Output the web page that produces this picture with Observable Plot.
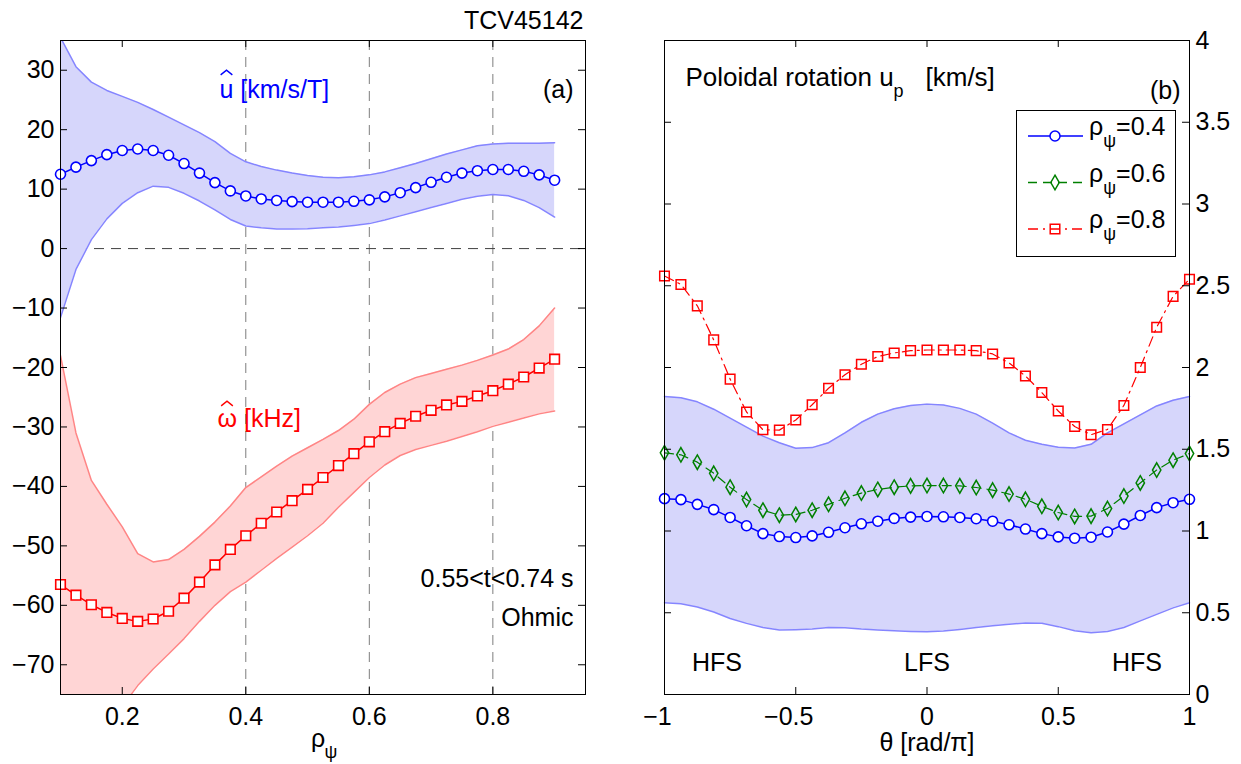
<!DOCTYPE html>
<html><head><meta charset="utf-8">
<script src="https://cdn.jsdelivr.net/npm/d3@7"></script>
<script src="https://cdn.jsdelivr.net/npm/@observablehq/plot@0.6"></script>
<style>
body{margin:0;background:#fff;}
#wrap{position:relative;width:1241px;height:764px;font-family:"Liberation Sans",Arial,sans-serif;}
#wrap > svg{position:absolute;top:0;}
</style></head><body><div id="wrap"></div>
<script>
// ---------- data, panel (a) ----------
const rho = [0.1,0.125,0.15,0.175,0.2,0.225,0.25,0.275,0.3,0.325,0.35,0.375,0.4,0.425,0.45,0.475,0.5,0.525,0.55,0.575,0.6,0.625,0.65,0.675,0.7,0.725,0.75,0.775,0.8,0.825,0.85,0.875,0.9];
const uHat   = [12.5,13.7,14.8,15.8,16.5,16.75,16.5,15.7,14.3,12.7,11.1,9.7,8.85,8.35,8.1,7.9,7.8,7.8,7.8,7.95,8.2,8.7,9.4,10.25,11.15,12.0,12.7,13.1,13.3,13.3,13.0,12.4,11.5];
const uHatHi = [35.5,30.6,28,26.6,25.6,24.6,23.4,22.1,20.8,19.5,18.0,16.0,14.6,13.8,13.2,12.7,12.3,12.0,11.9,12.1,12.4,12.9,13.6,14.3,15.1,15.9,16.6,17.3,17.6,17.7,17.7,17.7,17.8];
const uHatLo = [-11.6,-3.5,1.5,5.0,7.6,9.4,10.5,10.3,9.3,8.0,6.5,4.9,3.8,3.5,3.3,3.3,3.35,3.5,3.65,3.9,4.2,4.8,5.5,6.2,6.9,7.6,8.3,8.8,9.1,8.9,8.1,6.9,5.3];
const omegaHat = [-56.5,-58.3,-59.9,-61.2,-62.2,-62.7,-62.3,-61.0,-58.8,-56.1,-53.2,-50.6,-48.3,-46.2,-44.3,-42.4,-40.5,-38.5,-36.5,-34.5,-32.5,-30.8,-29.4,-28.2,-27.2,-26.3,-25.7,-24.8,-23.9,-22.8,-21.6,-20.1,-18.6];
const omegaHi  = [-18.0,-31,-39,-43,-46.8,-51.3,-52.7,-52.3,-50.6,-48.4,-46.0,-43.3,-40.2,-38.4,-36.6,-34.9,-33.5,-32.1,-30.6,-28.7,-26.2,-24.2,-22.8,-21.7,-21.0,-20.3,-19.6,-18.8,-17.9,-16.9,-15.3,-13.0,-10.0];
const omegaLo  = [-92,-88,-84,-80.5,-77,-73.5,-70.7,-68.2,-65.6,-62.7,-60.0,-57.7,-56.1,-54.1,-52.1,-50.2,-48.3,-46.2,-43.5,-41.0,-38.5,-36.4,-34.8,-33.8,-33.1,-32.4,-31.6,-30.8,-29.9,-29.2,-28.5,-27.8,-27.3];
const xTicksA = [0.2,0.4,0.6,0.8];
const yTicksA = [-70,-60,-50,-40,-30,-20,-10,0,10,20,30];
const gridA = [0.4,0.6,0.8];

// ---------- data, panel (b) ----------
const theta = [-1,-0.9375,-0.875,-0.8125,-0.75,-0.6875,-0.625,-0.5625,-0.5,-0.4375,-0.375,-0.3125,-0.25,-0.1875,-0.125,-0.0625,0,0.0625,0.125,0.1875,0.25,0.3125,0.375,0.4375,0.5,0.5625,0.625,0.6875,0.75,0.8125,0.875,0.9375,1];
const up04 = [1.198,1.192,1.163,1.131,1.083,1.032,0.984,0.966,0.960,0.970,0.992,1.020,1.044,1.06,1.077,1.085,1.089,1.087,1.083,1.075,1.06,1.038,1.012,0.984,0.964,0.956,0.962,0.994,1.042,1.095,1.143,1.173,1.194];
const up06 = [1.478,1.466,1.421,1.353,1.268,1.192,1.127,1.097,1.101,1.127,1.163,1.2,1.232,1.254,1.268,1.276,1.278,1.278,1.276,1.266,1.25,1.226,1.194,1.151,1.113,1.089,1.091,1.137,1.214,1.294,1.373,1.433,1.474];
const up08 = [2.56,2.508,2.377,2.169,1.929,1.728,1.619,1.617,1.679,1.772,1.873,1.956,2.020,2.067,2.089,2.103,2.107,2.107,2.107,2.103,2.083,2.028,1.948,1.847,1.734,1.639,1.589,1.621,1.768,2.0,2.246,2.435,2.54];
const bandHi = [1.823,1.815,1.79,1.745,1.69,1.635,1.58,1.54,1.506,1.51,1.54,1.60,1.665,1.715,1.748,1.768,1.776,1.770,1.750,1.715,1.66,1.60,1.555,1.53,1.512,1.508,1.53,1.60,1.655,1.71,1.765,1.80,1.823];
const bandLo = [0.561,0.555,0.535,0.505,0.465,0.435,0.41,0.394,0.396,0.40,0.41,0.408,0.40,0.395,0.39,0.386,0.384,0.388,0.398,0.41,0.42,0.43,0.438,0.436,0.415,0.39,0.378,0.385,0.41,0.45,0.49,0.53,0.561];
const xTicksB = [-1,-0.5,0,0.5,1];
const yTicksB = [0,0.5,1,1.5,2,2.5,3,3.5,4];
const sideLabels = ["HFS","LFS","HFS"];
const sideTheta = [-0.8,0,0.8];
const legendLabels = ["0.4","0.6","0.8"];

// ---------- build ----------
const A = rho.map((r,i)=>({rho:r,u:uHat[i],uhi:uHatHi[i],ulo:uHatLo[i],w:omegaHat[i],whi:omegaHi[i],wlo:omegaLo[i]}));
const B = theta.map((t,i)=>({t,a:up04[i],b:up06[i],c:up08[i],hi:bandHi[i],lo:bandLo[i]}));
const FONT = "Liberation Sans, Arial, Helvetica, sans-serif";
const FS = 25;
const fmt = d => d < 0 ? "\u2212" + Math.abs(d) : String(d);
const FW = 525, FH = 654, TK = 7;
const BLUE="#0000ff", RED="#ff0000", GREEN="#008000";
const BFILL="#d6d6fb", BEDGE="#8585ff", RFILL="#ffd5d5", REDGE="#ff8585";
const style = {fontFamily: FONT, fontSize: FS+"px", background: "transparent", overflow: "visible", color:"black"};
// circumflex accent drawn as a symbol (a "hat" above u and omega)
const hatSymbol = {draw(ctx, size){ const w = Math.sqrt(size); ctx.moveTo(-w/2, w/5); ctx.lineTo(0, -w/5); ctx.lineTo(w/2, w/5); }};

function ticks(xt, yt) {
  return [
    Plot.tickX(xt, {x: d=>d, insetTop: FH-TK, stroke:"black"}),
    Plot.tickX(xt, {x: d=>d, insetBottom: FH-TK, stroke:"black"}),
    Plot.tickY(yt, {y: d=>d, insetRight: FW-TK, stroke:"black"}),
    Plot.tickY(yt, {y: d=>d, insetLeft: FW-TK, stroke:"black"})
  ];
}

const plotA = Plot.plot({
  width: 620, height: 764, marginLeft: 60, marginRight: 35, marginTop: 40, marginBottom: 70,
  style,
  x: {domain: [0.1, 0.95], axis: null},
  y: {domain: [-75, 35], axis: null},
  marks: [
    Plot.ruleX(gridA, {x: d=>d, stroke:"#7d7d7d", strokeDasharray:"10,7"}),
    Plot.ruleY([0], {y: d=>d, stroke:"#404040", strokeDasharray:"10,7"}),
    Plot.areaY(A, {x:"rho", y1:"ulo", y2:"uhi", fill:BFILL, clip:true}),
    Plot.line(A, {x:"rho", y:"uhi", stroke:BEDGE, strokeWidth:1.5, clip:true}),
    Plot.line(A, {x:"rho", y:"ulo", stroke:BEDGE, strokeWidth:1.5, clip:true}),
    Plot.areaY(A, {x:"rho", y1:"wlo", y2:"whi", fill:RFILL, clip:true}),
    Plot.line(A, {x:"rho", y:"whi", stroke:REDGE, strokeWidth:1.5, clip:true}),
    Plot.line(A, {x:"rho", y:"wlo", stroke:REDGE, strokeWidth:1.5, clip:true}),
    Plot.line(A, {x:"rho", y:"u", stroke:BLUE, strokeWidth:1.5}),
    Plot.dot(A, {x:"rho", y:"u", r:5, stroke:BLUE, fill:"white", strokeWidth:1.6}),
    Plot.line(A, {x:"rho", y:"w", stroke:RED, strokeWidth:1.5}),
    Plot.dot(A, {x:"rho", y:"w", symbol:"square", r:5.4, stroke:RED, fill:"white", strokeWidth:1.6}),
    ...ticks(xTicksA, yTicksA),
    Plot.axisX(xTicksA, {anchor:"bottom", tickSize:0, tickPadding:13, tickFormat: fmt, label:null, fontSize:FS}),
    Plot.axisY(yTicksA, {anchor:"left", tickSize:0, tickPadding:6, tickFormat: fmt, label:null, fontSize:FS}),
    Plot.frame({stroke:"black"}),
    Plot.text(["TCV45142"], {frameAnchor:"top-right", textAnchor:"end", lineAnchor:"bottom", dx:-2, dy:-12, fontSize:FS}),
    Plot.text(["(a)"], {frameAnchor:"top-right", textAnchor:"end", lineAnchor:"bottom", dx:-12, dy:57, fontSize:FS}),
    Plot.text(["u [km/s/T]"], {frameAnchor:"top-left", textAnchor:"start", lineAnchor:"bottom", dx:159, dy:57, fill:BLUE, fontSize:FS}),
    Plot.dot([0], {frameAnchor:"top-left", dx:166, dy:32, symbol:hatSymbol, r:6.6, stroke:BLUE, fill:"none", strokeWidth:1.4}),
    Plot.text(["\u03c9 [kHz]"], {frameAnchor:"top-left", textAnchor:"start", lineAnchor:"bottom", dx:157, dy:386, fill:RED, fontSize:FS}),
    Plot.dot([0], {frameAnchor:"top-left", dx:166.5, dy:363, symbol:hatSymbol, r:6.6, stroke:RED, fill:"none", strokeWidth:1.4}),
    Plot.text(["0.55<t<0.74 s"], {frameAnchor:"top-right", textAnchor:"end", lineAnchor:"bottom", dx:-12, dy:546, fontSize:FS}),
    Plot.text(["Ohmic"], {frameAnchor:"top-right", textAnchor:"end", lineAnchor:"bottom", dx:-12, dy:585, fontSize:FS}),
    Plot.text(["\u03c1"], {frameAnchor:"bottom", textAnchor:"middle", lineAnchor:"bottom", dx:-5, dy:52, fontSize:FS}),
    Plot.text(["\u03c8"], {frameAnchor:"bottom", textAnchor:"middle", lineAnchor:"bottom", dx:8, dy:63, fontSize:18})
  ]
});
plotA.style.left = "0px";

const plotB = Plot.plot({
  width: 621, height: 764, marginLeft: 44, marginRight: 52, marginTop: 40, marginBottom: 70,
  style,
  x: {domain: [-1, 1], axis: null},
  y: {domain: [0, 4], axis: null},
  marks: [
    Plot.areaY(B, {x:"t", y1:"lo", y2:"hi", fill:BFILL}),
    Plot.line(B, {x:"t", y:"hi", stroke:BEDGE, strokeWidth:1.5}),
    Plot.line(B, {x:"t", y:"lo", stroke:BEDGE, strokeWidth:1.5}),
    Plot.line(B, {x:"t", y:"c", stroke:RED, strokeWidth:1.2, strokeDasharray:"10,5,2,5"}),
    Plot.dot(B, {x:"t", y:"c", symbol:"square", r:5.4, stroke:RED, fill:"none", strokeWidth:1.5}),
    Plot.line(B, {x:"t", y:"b", stroke:GREEN, strokeWidth:1.2, strokeDasharray:"9,6"}),
    Plot.dot(B, {x:"t", y:"b", symbol:"diamond", r:4.4, stroke:GREEN, fill:"none", strokeWidth:1.5}),
    Plot.line(B, {x:"t", y:"a", stroke:BLUE, strokeWidth:1.5}),
    Plot.dot(B, {x:"t", y:"a", r:5, stroke:BLUE, fill:"white", strokeWidth:1.6}),
    ...ticks(xTicksB, yTicksB),
    Plot.axisX(xTicksB.filter(d=>d>=0), {anchor:"bottom", tickSize:0, tickPadding:13, tickFormat: fmt, label:null, fontSize:FS}),
    Plot.axisX(xTicksB.filter(d=>d<0), {anchor:"bottom", tickSize:0, tickPadding:13, tickFormat: fmt, label:null, fontSize:FS, dx:-7}),
    Plot.axisY(yTicksB, {anchor:"right", tickSize:0, tickPadding:6, tickFormat: fmt, label:null, fontSize:FS}),
    Plot.frame({stroke:"black"}),
    Plot.text(["(b)"], {frameAnchor:"top-right", textAnchor:"end", lineAnchor:"bottom", dx:-9, dy:58, fontSize:FS}),
    Plot.text(["Poloidal rotation u"], {frameAnchor:"top-left", textAnchor:"start", lineAnchor:"bottom", dx:21, dy:45, fontSize:26}),
    Plot.text(["p"], {frameAnchor:"top-left", textAnchor:"start", lineAnchor:"bottom", dx:229, dy:56, fontSize:18}),
    Plot.text(["[km/s]"], {frameAnchor:"top-left", textAnchor:"start", lineAnchor:"bottom", dx:261, dy:45, fontSize:26}),
    Plot.text(sideLabels, {x: (d,i)=>sideTheta[i], frameAnchor:"bottom", textAnchor:"middle", lineAnchor:"bottom", dy:-24, fontSize:FS}),
    Plot.text(["\u03b8 [rad/\u03c0]"], {frameAnchor:"bottom", textAnchor:"middle", lineAnchor:"bottom", dy:56, fontSize:FS})
  ]
});
plotB.style.left = "620px";

const wrap = document.getElementById("wrap");
wrap.appendChild(plotA);
wrap.appendChild(plotB);

// ---------- legend (panel b) ----------
const legSvg = d3.select(wrap).append("svg")
  .attr("width",1241).attr("height",764)
  .style("left","0px").style("font-family",FONT);
const L = {x:1016, y:110, w:159, h:146, lx1:1028, lx2:1083, mx:1055, tx:1089, y0:136, dyE:46.5};
legSvg.append("rect").attr("x",L.x+0.5).attr("y",L.y+0.5).attr("width",L.w).attr("height",L.h)
  .attr("fill","white").attr("stroke","black");
const legStyles = [
  {color:BLUE, dash:null, sym:d3.symbolCircle, r:5, fill:"white"},
  {color:GREEN, dash:"9,6", sym:d3.symbolDiamond, r:4.4, fill:"none"},
  {color:RED, dash:"10,5,2,5", sym:d3.symbolSquare, r:5.4, fill:"none"}
];
legendLabels.forEach((lab,i)=>{
  const s = legStyles[i], yy = L.y0 + i*L.dyE;
  const ln = legSvg.append("line").attr("x1",L.lx1).attr("x2",L.lx2).attr("y1",yy).attr("y2",yy)
    .attr("stroke",s.color).attr("stroke-width",1.3);
  if (s.dash) ln.attr("stroke-dasharray",s.dash);
  legSvg.append("path").attr("transform",`translate(${L.mx},${yy})`)
    .attr("d", d3.symbol(s.sym, Math.PI*s.r*s.r)()).attr("fill",s.fill).attr("stroke",s.color).attr("stroke-width",1.5);
  const t = legSvg.append("text").attr("x",L.tx).attr("y",yy-1).attr("font-size",FS);
  t.append("tspan").text("\u03c1");
  t.append("tspan").attr("font-size",18).attr("dy",12).text("\u03c8");
  t.append("tspan").attr("dy",-12).text("=" + lab);
});
</script></body></html>
